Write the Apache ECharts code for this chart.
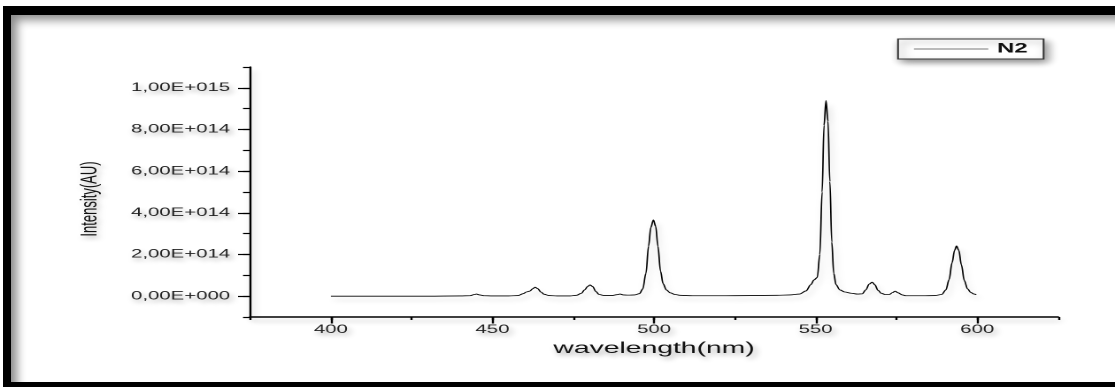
<!DOCTYPE html>
<html>
<head>
<meta charset="utf-8">
<script src="https://cdn.jsdelivr.net/npm/echarts@6/dist/echarts.min.js"></script>
<style>
  html, body { margin: 0; padding: 0; background: #fff; overflow: hidden; width: 1115px; height: 387px; }
  #frame {
    position: absolute; left: 3px; top: 6px; width: 1200px; height: 381px;
    box-sizing: border-box;
    border-left: 8px solid #000; border-top: 9px solid #000; border-bottom: 5px solid #000;
    box-shadow: inset 9px 8px 10px -3px rgba(0,0,0,0.45);
    background: #fff;
  }
  #chart {
    position: absolute; left: 0; top: 0; width: 630px; height: 387px;
    transform: scaleX(1.769841); transform-origin: 0 0;
  }
</style>
</head>
<body>
<div id="frame"></div>
<div id="chart"></div>
<script>
// ---- data ----
const seriesName = 'N2';
const xTitle = 'wavelength(nm)';
const yTitle = 'Intensity(AU)';
const xTickValues = [400, 450, 500, 550, 600];
const yTickValues = [0, 2e14, 4e14, 6e14, 8e14, 1e15];
const yTickLabels = ['0,00E+000', '2,00E+014', '4,00E+014', '6,00E+014', '8,00E+014', '1,00E+015'];
const wavelength = [
  400, 410, 420, 430, 440, 443, 444.5, 445, 446, 447.5,
  450, 455, 458, 459.5, 460.5, 461.5, 462.5, 463.2, 464, 465,
  466, 467.5, 470, 474, 476, 477.5, 478.5, 479.5, 480.2, 481,
  482, 483, 484.5, 487, 488.5, 489.5, 490.5, 492, 494, 495.5,
  496.5, 497.5, 498.3, 499, 499.8, 500.5, 501.2, 502, 502.8, 503.8,
  505, 506.5, 508, 512, 520, 530, 538, 542, 545, 547,
  548.5, 549.5, 550.5, 551.3, 552, 552.6, 553.2, 553.8, 554.4, 555,
  555.6, 556.3, 557.5, 559, 561, 563, 564.4, 565.5, 566.6, 567.5,
  568.3, 569.3, 570.3, 571.5, 572.8, 573.8, 574.6, 575.5, 576.8, 578,
  583, 587, 589, 590.3, 591.3, 592.2, 593, 593.6, 594.3, 595.1,
  596, 597, 598, 599, 599.7
];
// intensity in units of 1e14
const intensityE14 = [
  0.00, 0.00, 0.00, 0.00, 0.01, 0.02, 0.08, 0.10, 0.06, 0.02,
  0.01, 0.01, 0.03, 0.12, 0.20, 0.24, 0.36, 0.43, 0.36, 0.20,
  0.09, 0.03, 0.01, 0.01, 0.04, 0.14, 0.30, 0.47, 0.54, 0.46,
  0.22, 0.08, 0.03, 0.03, 0.07, 0.10, 0.06, 0.05, 0.06, 0.12,
  0.35, 1.10, 2.40, 3.30, 3.66, 3.35, 2.40, 1.20, 0.60, 0.30,
  0.16, 0.08, 0.04, 0.02, 0.02, 0.03, 0.04, 0.06, 0.10, 0.25,
  0.55, 0.78, 0.90, 2.00, 5.00, 8.20, 9.39, 8.40, 5.50, 2.60,
  1.10, 0.55, 0.30, 0.20, 0.14, 0.10, 0.11, 0.30, 0.58, 0.67,
  0.55, 0.28, 0.14, 0.08, 0.08, 0.17, 0.24, 0.16, 0.06, 0.02,
  0.02, 0.03, 0.08, 0.30, 0.80, 1.60, 2.20, 2.41, 2.20, 1.50,
  0.75, 0.35, 0.18, 0.10, 0.07
];

const points = wavelength.map((w, i) => [w, intensityE14[i] * 1e14]);

const FONT = '"Liberation Sans", Arial, sans-serif';
const txtShadow = {
  textShadowColor: 'rgba(0,0,0,0.35)', textShadowBlur: 4,
  textShadowOffsetX: 1.5, textShadowOffsetY: 3
};
const lineShadow = {
  shadowColor: 'rgba(0,0,0,0.22)', shadowBlur: 5, shadowOffsetX: 1.5, shadowOffsetY: 4
};

const chart = echarts.init(document.getElementById('chart'), null, { devicePixelRatio: 2 });
chart.setOption({
  animation: false,
  backgroundColor: 'transparent',
  grid: { left: 141.3, right: 32.2, top: 67, bottom: 70 },
  legend: {
    left: 507.4, top: 39,
    padding: [3, 9, 3, 8.5],
    itemWidth: 42, itemHeight: 10, itemGap: 5,
    backgroundColor: '#fff',
    borderColor: '#333', borderWidth: 1, borderRadius: 0,
    shadowColor: 'rgba(0,0,0,0.45)', shadowBlur: 6, shadowOffsetX: 2, shadowOffsetY: 3,
    textStyle: { fontFamily: FONT, fontSize: 13.5, fontWeight: 'bold', color: '#111' },
    data: [{ name: seriesName, itemStyle: { opacity: 0 }, lineStyle: { color: '#777', width: 1 } }]
  },
  xAxis: [{
    type: 'value', min: 375, max: 625, interval: 25,
    name: xTitle, nameLocation: 'middle', nameGap: 23.5,
    nameTextStyle: Object.assign({ fontFamily: FONT, fontSize: 16, color: '#111' }, txtShadow),
    axisLine: { show: true, onZero: false, lineStyle: Object.assign({ color: '#000', width: 1.5 }, lineShadow) },
    axisTick: { show: true, inside: false, length: 3, lineStyle: { color: '#000', width: 1.2 } },
    axisLabel: { show: false },
    splitLine: { show: false }
  }, {
    type: 'value', min: 375, max: 625, position: 'bottom',
    axisLine: { show: false, onZero: false },
    axisTick: { show: true, inside: false, length: 6.5, customValues: xTickValues, lineStyle: { color: '#000', width: 1.2 } },
    axisLabel: Object.assign({
      show: true, customValues: xTickValues, margin: 7,
      fontFamily: FONT, fontSize: 11.5, color: '#222'
    }, txtShadow),
    splitLine: { show: false }
  }],
  yAxis: [{
    type: 'value', min: -1e14, max: 1.1e15, interval: 1e14,
    name: yTitle, nameLocation: 'middle', nameGap: 84,
    nameTextStyle: Object.assign({ fontFamily: FONT, fontSize: 13, color: '#111', padding: [0, 14, 0, 0] }, txtShadow),
    axisLine: { show: true, onZero: false, lineStyle: Object.assign({ color: '#000', width: 1.2 }, lineShadow) },
    axisTick: { show: true, inside: false, length: 4, lineStyle: { color: '#000', width: 1.2 } },
    axisLabel: { show: false },
    splitLine: { show: false }
  }, {
    type: 'value', min: -1e14, max: 1.1e15, position: 'left',
    axisLine: { show: false, onZero: false },
    axisTick: { show: true, inside: false, length: 6.8, customValues: yTickValues, lineStyle: { color: '#000', width: 1.2 } },
    axisLabel: Object.assign({
      show: true, customValues: yTickValues, margin: 11.3,
      fontFamily: FONT, fontSize: 11.5, color: '#222',
      formatter: function (v) {
        const i = yTickValues.findIndex(t => Math.abs(t - v) < 1e10);
        return i >= 0 ? yTickLabels[i] : '';
      }
    }, txtShadow),
    splitLine: { show: false }
  }],
  series: [{
    name: seriesName, type: 'line', xAxisIndex: 0, yAxisIndex: 0,
    data: points, symbol: 'none', showSymbol: false,
    smooth: 0.35, smoothMonotone: 'x',
    lineStyle: Object.assign({ color: '#000', width: 0.85 }, lineShadow),
    itemStyle: { color: '#000' }
  }]
});
</script>
</body>
</html>
